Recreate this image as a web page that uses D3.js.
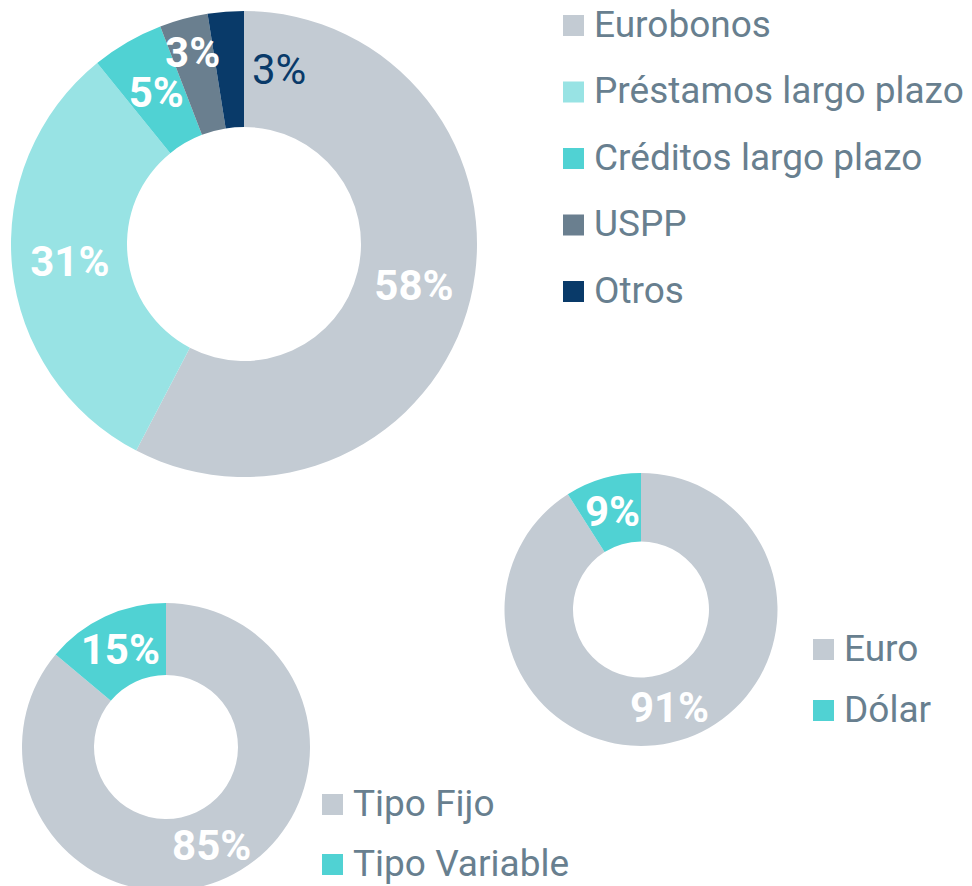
<!DOCTYPE html>
<html>
<head>
<meta charset="utf-8">
<script src="https://cdn.jsdelivr.net/npm/d3@7"></script>
<style>
  html, body { margin: 0; padding: 0; background: #ffffff; }
  svg { display: block; font-family: Roboto, "Noto Sans", sans-serif; }
</style>
</head>
<body>
<svg id="chart" width="972" height="886"></svg>
<script>
// ---- Data ----
const debtTypeLabels = ["Eurobonos", "Préstamos largo plazo", "Créditos largo plazo", "USPP", "Otros"];
const debtTypeValues = [57.65, 31.5, 5.0, 3.35, 2.5];      // slice sizes as drawn
const debtTypeText   = ["58%", "31%", "5%", "3%", "3%"];    // printed labels

const currencyLabels = ["Euro", "Dólar"];
const currencyValues = [91, 9];
const currencyText   = ["91%", "9%"];

const rateLabels = ["Tipo Fijo", "Tipo Variable"];
const rateValues = [86.1, 13.9];
const rateText   = ["85%", "15%"];

// ---- Styles ----
const debtColors = ["#c3cbd3", "#98e3e4", "#50d2d3", "#6a7f8f", "#093a69"];
const twoColors = ["#c3cbd3", "#50d2d3"];
const legendTextColor = "#687f8f";

const svg = d3.select("#chart");

function donut(cfg) {
  const g = svg.append("g").attr("transform", `translate(${cfg.cx},${cfg.cy})`);
  const pie = d3.pie().sort(null).value(d => d)(cfg.values);
  const arc = d3.arc().innerRadius(cfg.r).outerRadius(cfg.R);
  const color = d3.scaleOrdinal().domain(cfg.labels).range(cfg.colors);

  g.selectAll("path.slice")
    .data(pie)
    .join("path")
    .attr("class", "slice")
    .attr("d", arc)
    .attr("fill", (d, i) => color(cfg.labels[i]));

  const mid = (cfg.R + cfg.r) / 2;
  const labelArc = d3.arc().innerRadius(mid).outerRadius(mid);
  const smallArc = d3.arc().innerRadius(cfg.R * 0.85).outerRadius(cfg.R * 0.85);
  const last = pie.length - 1;

  pie.forEach((d, i) => {
    const t = g.append("text")
      .attr("font-size", 42)
      .attr("dy", "0.35em")
      .text(cfg.text[i]);
    if (i === last && d.data < 4) {
      // outside label for the final tiny slice
      const ang = d.endAngle;
      t.attr("x", Math.sin(ang) * mid + 8)
       .attr("y", -Math.cos(ang) * mid)
       .attr("text-anchor", "start")
       .attr("font-weight", 400)
       .attr("fill", color(cfg.labels[i]));
    } else {
      const c = d.data < 4 ? smallArc.centroid(d) : labelArc.centroid(d);
      t.attr("x", c[0]).attr("y", c[1])
       .attr("text-anchor", "middle")
       .attr("font-weight", 700)
       .attr("fill", "#ffffff");
    }
  });

  // legend
  const lg = svg.append("g").attr("transform", `translate(${cfg.lx},${cfg.ly})`);
  const rows = lg.selectAll("g.row")
    .data(cfg.labels)
    .join("g")
    .attr("class", "row")
    .attr("transform", (d, i) => `translate(0,${i * cfg.lstep})`);
  rows.append("rect")
    .attr("x", 0).attr("y", -21.5)
    .attr("width", 21).attr("height", 21)
    .attr("fill", d => color(d));
  rows.append("text")
    .attr("x", 31).attr("y", 0)
    .attr("font-size", 37)
    .attr("fill", legendTextColor)
    .text(d => d);
}

donut({ cx: 244, cy: 244, R: 233, r: 117, values: debtTypeValues, labels: debtTypeLabels,
        text: debtTypeText, colors: debtColors, lx: 563, ly: 36.5, lstep: 66.5 });
donut({ cx: 641, cy: 609.5, R: 136.5, r: 68, values: currencyValues, labels: currencyLabels,
        text: currencyText, colors: twoColors, lx: 813, ly: 660.5, lstep: 61 });
donut({ cx: 166, cy: 747, R: 144, r: 72, values: rateValues, labels: rateLabels,
        text: rateText, colors: twoColors, lx: 322, ly: 815.5, lstep: 60 });
</script>
</body>
</html>
